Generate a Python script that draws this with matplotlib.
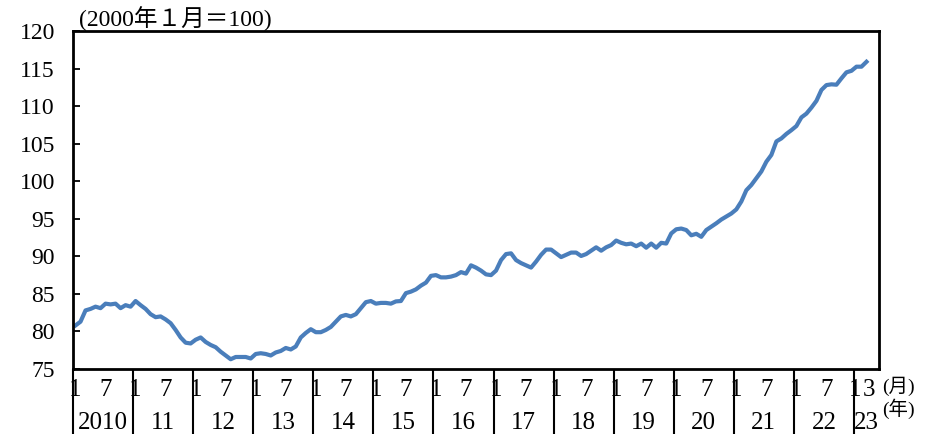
import matplotlib
matplotlib.use("Agg")
import matplotlib.pyplot as plt
import matplotlib.transforms as mtransforms
import numpy as np

plt.rcParams["font.family"] = ["Liberation Serif", "Noto Sans CJK JP"]

# monthly index, 2000 Jan = 100
y2010 = [80.8, 81.3, 82.8, 83.0, 83.3, 83.1, 83.7, 83.6, 83.7, 83.1, 83.5, 83.3]
y2011 = [84.05, 83.5, 83.0, 82.3, 81.9, 82.0, 81.6, 81.1, 80.2, 79.2, 78.5, 78.4]
y2012 = [78.9, 79.2, 78.6, 78.2, 77.9, 77.3, 76.8, 76.3, 76.6, 76.6, 76.6, 76.4]
y2013 = [77.0, 77.1, 77.0, 76.8, 77.2, 77.4, 77.8, 77.6, 78.0, 79.2, 79.8, 80.3]
y2014 = [79.9, 79.9, 80.2, 80.6, 81.3, 82.0, 82.2, 82.0, 82.3, 83.1, 83.9, 84.05]
y2015 = [83.7, 83.8, 83.8, 83.7, 84.0, 84.05, 85.1, 85.3, 85.6, 86.1, 86.5, 87.4]
y2016 = [87.5, 87.2, 87.2, 87.3, 87.5, 87.9, 87.7, 88.8, 88.5, 88.1, 87.6, 87.5]
y2017 = [88.1, 89.5, 90.3, 90.4, 89.5, 89.1, 88.8, 88.5, 89.3, 90.2, 90.9, 90.9]
y2018 = [90.4, 89.9, 90.2, 90.5, 90.5, 90.05, 90.3, 90.75, 91.2, 90.75, 91.2, 91.5]
y2019 = [92.1, 91.8, 91.6, 91.7, 91.35, 91.7, 91.15, 91.7, 91.15, 91.8, 91.7, 93.05]
y2020 = [93.6, 93.7, 93.5, 92.8, 93.0, 92.6, 93.5, 93.95, 94.4, 94.9, 95.3, 95.7]
y2021 = [96.25, 97.3, 98.8, 99.5, 100.4, 101.3, 102.6, 103.5, 105.3, 105.7, 106.3, 106.8]
y2022 = [107.35, 108.5, 109.0, 109.8, 110.7, 112.15, 112.8, 112.9, 112.85, 113.7, 114.5, 114.7]
y2023 = [115.25, 115.25, 115.9]

year_labels = ["2010", "11", "12", "13", "14", "15", "16", "17", "18", "19",
               "20", "21", "22", "23"]
yticks = [75, 80, 85, 90, 95, 100, 105, 110, 115, 120]

values = (y2010 + y2011 + y2012 + y2013 + y2014 + y2015 + y2016 + y2017
          + y2018 + y2019 + y2020 + y2021 + y2022 + y2023)
x = np.arange(len(values))
n_months = len(values)

fig = plt.figure(figsize=(9.35, 4.34), dpi=100)
ax = fig.add_axes([73 / 935, 65 / 434, 806 / 935, 338 / 434])

ax.plot(x, values, color="#4A7EBB", lw=3.0, solid_joinstyle="round")

ax.set_xlim(-0.5, 160.5)
ax.set_ylim(75, 120)
ax.set_yticks(yticks)
ax.set_yticklabels([str(t) for t in yticks], fontsize=17)
ax.tick_params(axis="y", direction="in", length=5, width=1.3, pad=13)
ax.set_xticks([])
for s in ax.spines.values():
    s.set_linewidth(2.0)

# month / year labels under the axis
fs = 18
trans = mtransforms.blended_transform_factory(ax.transData, ax.transAxes)
for k, lab in enumerate(year_labels):
    start = 12 * k
    ax.plot([start - 0.5, start - 0.5], [0, -0.195], transform=trans,
            color="black", lw=1.5, clip_on=False, solid_capstyle="butt")
    if start + 6 < n_months:
        ax.text(start, -0.062, "1", transform=trans, ha="center",
                va="center", fontsize=fs)
        ax.text(start + 6, -0.062, "7", transform=trans, ha="center",
                va="center", fontsize=fs)
        ax.text(start + 5.5, -0.16, lab, transform=trans, ha="center",
                va="center", fontsize=fs)
    else:
        # short final year: only Jan and the last month fit
        ax.text(start - 0.2, -0.062, "1", transform=trans, ha="center",
                va="center", fontsize=fs)
        ax.text(n_months - 0.4, -0.062, str(n_months - start),
                transform=trans, ha="center", va="center", fontsize=fs)
        ax.text(n_months - 1, -0.16, lab, transform=trans, ha="center",
                va="center", fontsize=fs)

fig.text(882 / 935, 1 - 386 / 434, "(月)", ha="left", va="center", fontsize=14)
fig.text(882 / 935, 1 - 409 / 434, "(年)", ha="left", va="center", fontsize=14)
fig.text(79 / 935, 1 - 26 / 434, "(2000年１月＝100)", ha="left",
         va="baseline", fontsize=17)

fig.savefig("out.png", dpi=100)
